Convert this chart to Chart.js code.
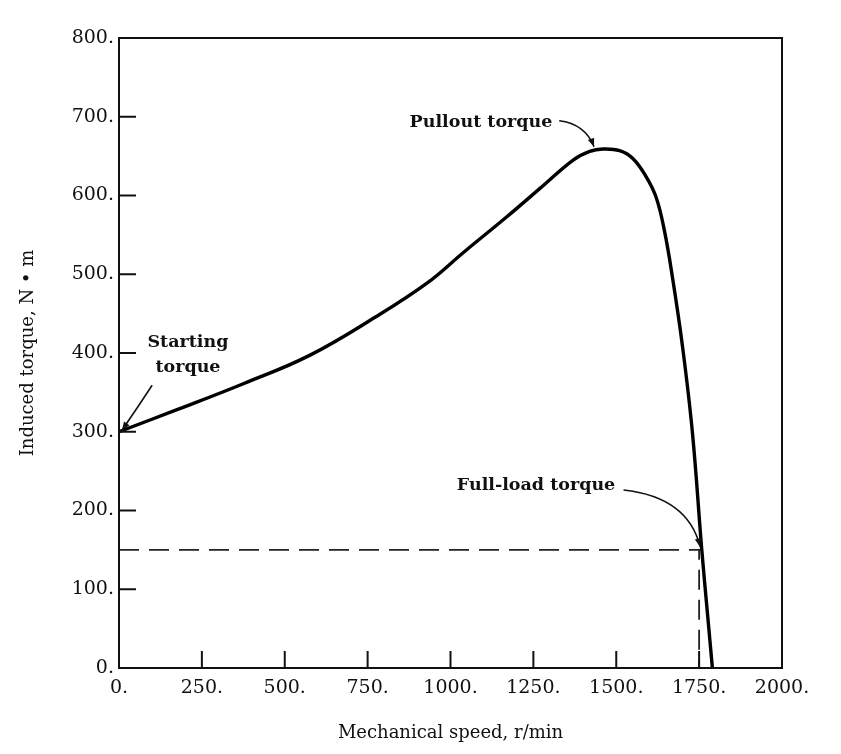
<!DOCTYPE html>
<html>
<head>
<meta charset="utf-8">
<script src="https://cdn.jsdelivr.net/npm/chart.js@4.4.1/dist/chart.umd.min.js"></script>
<style>
  html, body { margin: 0; padding: 0; background: #fff; }
  #wrap { width: 841px; height: 754px; }
</style>
</head>
<body>
<div id="wrap"><canvas id="chart" width="841" height="754"></canvas></div>
<script>
// --- data
const speeds  = [0, 175, 375, 575, 775, 930, 1040, 1170, 1270, 1370, 1420, 1460, 1510, 1550, 1590, 1620, 1645, 1670, 1700, 1730, 1758, 1775, 1790];
const torques = [300, 328, 361, 397, 446, 489, 528, 573, 609, 645, 656, 659, 657, 647, 624, 598, 556, 495, 408, 298, 150, 70, 0];

// full-load operating point (dashed guides)
const fullLoadSpeed = 1750;
const fullLoadTorque = 150;

const xTicks = [0, 250, 500, 750, 1000, 1250, 1500, 1750, 2000];
const yTicks = [0, 100, 200, 300, 400, 500, 600, 700, 800];

const SERIF = "'DejaVu Serif', 'Liberation Serif', serif";

// annotation texts (data coords) + arrow from / bend / tip
const notes = [
  { lines: ["Pullout torque"], x: 1092, y: 693,
    arrow: { from: [1328, 695], ctrl: [1406, 691], to: [1433, 662] } },
  { lines: ["Starting", "torque"], x: 208, y: 397,
    arrow: { from: [100, 359], ctrl: [55, 330], to: [9, 302] } },
  { lines: ["Full-load torque"], x: 1258, y: 232,
    arrow: { from: [1522, 226], ctrl: [1716, 217], to: [1753, 154] } }
];

const curve = speeds.map((s, i) => ({ x: s, y: torques[i] }));
const guide = [
  { x: 0, y: fullLoadTorque },
  { x: fullLoadSpeed, y: fullLoadTorque },
  { x: fullLoadSpeed, y: 0 }
];

function arrowHead(ctx, x1, y1, x2, y2) {
  const a = Math.atan2(y2 - y1, x2 - x1);
  const len = 9, w = 0.38;
  ctx.beginPath();
  ctx.moveTo(x2, y2);
  ctx.lineTo(x2 - len * Math.cos(a - w), y2 - len * Math.sin(a - w));
  ctx.lineTo(x2 - len * Math.cos(a + w), y2 - len * Math.sin(a + w));
  ctx.closePath();
  ctx.fill();
}

// frame, inward ticks, annotations
const decor = {
  id: "decor",
  afterDatasetsDraw(chart) {
    const { ctx, chartArea: a, scales: { x, y } } = chart;
    ctx.save();
    ctx.strokeStyle = "#111";
    ctx.fillStyle = "#111";
    ctx.lineWidth = 2;
    ctx.strokeRect(a.left, a.top, a.right - a.left, a.bottom - a.top);

    // ticks pointing into the plot
    xTicks.slice(1, -1).forEach(v => {
      const px = x.getPixelForValue(v);
      ctx.beginPath(); ctx.moveTo(px, a.bottom); ctx.lineTo(px, a.bottom - 17); ctx.stroke();
    });
    yTicks.slice(1, -1).forEach(v => {
      const py = y.getPixelForValue(v);
      ctx.beginPath(); ctx.moveTo(a.left, py); ctx.lineTo(a.left + 17, py); ctx.stroke();
    });

    // labels + arrows
    notes.forEach(n => {
      ctx.font = "bold 17.5px " + SERIF;
      ctx.textAlign = "center";
      ctx.textBaseline = "middle";
      const cx = x.getPixelForValue(n.x);
      const cy = y.getPixelForValue(n.y);
      n.lines.forEach((t, i) => ctx.fillText(t, cx, cy + (i - (n.lines.length - 1) / 2) * 25));
      const f = n.arrow.from, c = n.arrow.ctrl, t = n.arrow.to;
      const fx = x.getPixelForValue(f[0]), fy = y.getPixelForValue(f[1]);
      const qx = x.getPixelForValue(c[0]), qy = y.getPixelForValue(c[1]);
      const tx = x.getPixelForValue(t[0]), ty = y.getPixelForValue(t[1]);
      ctx.lineWidth = 1.6;
      ctx.beginPath(); ctx.moveTo(fx, fy); ctx.quadraticCurveTo(qx, qy, tx, ty); ctx.stroke();
      arrowHead(ctx, qx, qy, tx, ty);
    });
    ctx.restore();
  }
};

new Chart(document.getElementById("chart"), {
  type: "line",
  data: {
    datasets: [
      {
        data: curve,
        borderColor: "#000",
        borderWidth: 3.4,
        pointRadius: 0,
        tension: 0.4,
        fill: false
      },
      {
        data: guide,
        borderColor: "#222",
        borderWidth: 1.8,
        borderDash: [20, 10],
        pointRadius: 0,
        tension: 0,
        fill: false
      }
    ]
  },
  options: {
    responsive: false,
    animation: false,
    layout: { padding: { top: 38, right: 59, left: 0, bottom: 0 } },
    plugins: { legend: { display: false }, tooltip: { enabled: false } },
    scales: {
      x: {
        type: "linear",
        min: 0, max: 2000,
        afterBuildTicks: s => { s.ticks = xTicks.map(v => ({ value: v })); },
        afterFit: s => { s.height = 86; },
        grid: { display: false, drawTicks: false },
        border: { display: false },
        ticks: {
          color: "#111", padding: 9, maxRotation: 0,
          font: { family: SERIF, size: 19 },
          callback: v => v + "."
        },
        title: {
          display: true, text: "Mechanical speed, r/min", color: "#111",
          font: { family: SERIF, size: 18 }, padding: { top: 0, bottom: 10 }
        }
      },
      y: {
        min: 0, max: 800,
        afterBuildTicks: s => { s.ticks = yTicks.map(v => ({ value: v })); },
        afterFit: s => { s.width = 119; },
        grid: { display: false, drawTicks: false },
        border: { display: false },
        ticks: {
          color: "#111", padding: 5,
          font: { family: SERIF, size: 19 },
          callback: v => v + "."
        },
        title: {
          display: true, text: "Induced torque, N \u2022 m", color: "#111",
          font: { family: SERIF, size: 18 }, padding: { top: 18, bottom: 0 }
        }
      }
    }
  },
  plugins: [decor]
});
</script>
</body>
</html>
